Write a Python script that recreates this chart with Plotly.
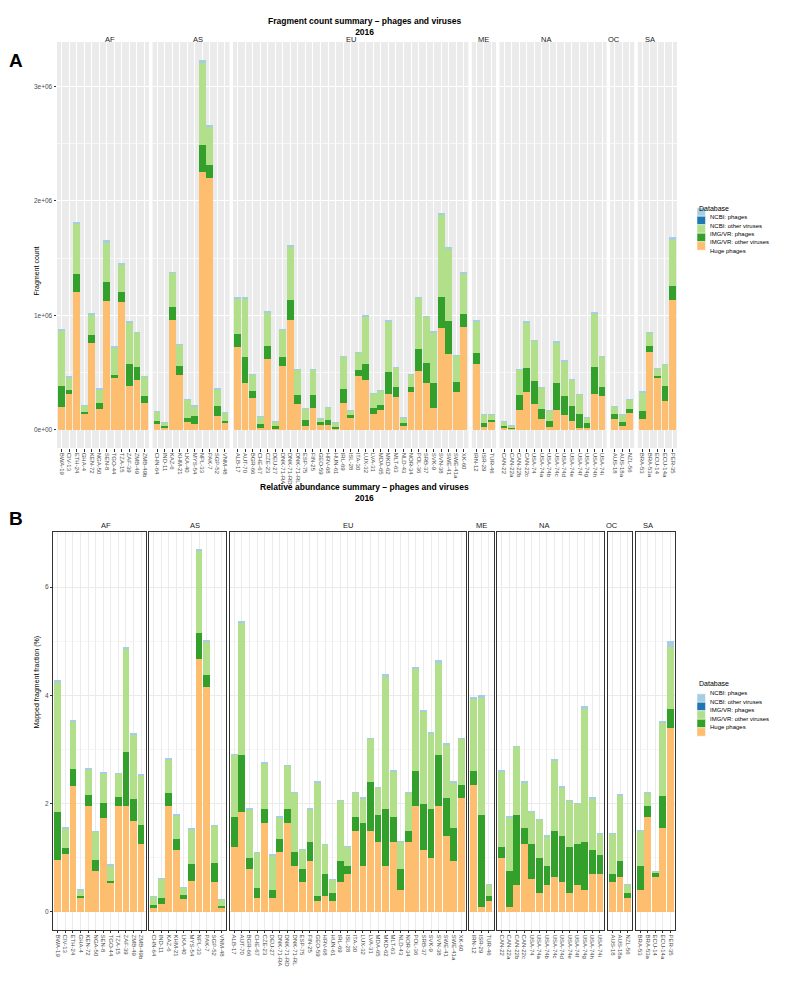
import plotly.graph_objects as go

# ---------------- data ----------------
regions = ["AF", "AS", "EU", "ME", "NA", "OC", "SA"]
region_sizes = [12, 10, 31, 3, 14, 3, 5]
samples = [
    "BWA-19", "CIV-13", "ETH-24", "GHA-4", "KEN-72", "NGA-50", "SEN-8", "TGO-44", "TZA-15", "ZAF-39", "ZMB-49", "ZMB-49b",
    "CHN-64", "IND-11", "KAZ-6", "KHM-21", "LKA-40", "MYS-54", "NPL-33", "PAK-7", "SGP-52", "VNM-48",
    "ALB-17", "AUT-70", "BGR-66", "CHE-67", "CZE-23", "DEU-27", "DNK-71-RA", "DNK-71-RD", "DNK-71-RL", "ESP-75",
    "FIN-25", "GEO-59", "HRV-68", "HUN-61", "IRL-69", "ISL-28", "ITA-30", "LUX-32", "LVA-31", "MDA-65",
    "MKD-62", "MLT-63", "NLD-43", "NOR-34", "POL-36", "SRB-37", "SVK-9", "SVN-38", "SWE-41", "SWE-41a", "XK-60",
    "IRN-12", "ISR-29", "TUR-46",
    "CAN-22", "CAN-22a", "CAN-22b", "CAN-22c", "USA-74", "USA-74a", "USA-74b", "USA-74c", "USA-74d", "USA-74e",
    "USA-74f", "USA-74g", "USA-74h", "USA-74i",
    "AUS-18", "AUS-18a", "NZL-56",
    "BRA-53", "BRA-53a", "ECU-14", "ECU-14a", "PER-35",
]
series = ["Huge phages", "IMG/VR: other viruses", "IMG/VR: phages", "NCBI: other viruses", "NCBI: phages"]
colors = ["#FDBF6F", "#33A02C", "#B2DF8A", "#1F78B4", "#A6CEE3"]

# Panel A (fragment counts, millions) - read as cumulative stack tops
a_huge_top = [
    0.195, 0.315, 1.20, 0.137, 0.755, 0.178, 1.125, 0.455, 1.117, 0.382, 0.437, 0.233,
    0.05, 0.017, 0.956, 0.475, 0.067, 0.05, 2.257, 2.198, 0.122, 0.055,
    0.726, 0.408, 0.277, 0.015, 0.615, 0.012, 0.554, 0.959, 0.222, 0.035,
    0.19, 0.047, 0.041, 0.006, 0.23, 0.105, 0.464, 0.434, 0.137, 0.172,
    0.312, 0.289, 0.035, 0.329, 0.51, 0.408, 0.192, 0.892, 0.659, 0.327, 0.898,
    0.574, 0.02, 0.067,
    0.015, 0.006, 0.172, 0.329, 0.222, 0.093, 0.023, 0.169, 0.128, 0.073,
    0.015, 0.015, 0.312, 0.294,
    0.093, 0.035, 0.149,
    0.093, 0.682, 0.449, 0.25, 1.13,
]
a_imgvr_other_top = [
    0.379, 0.35, 1.364, 0.152, 0.828, 0.23, 1.29, 0.48, 1.207, 0.574, 0.545, 0.294,
    0.076, 0.03, 1.07, 0.557, 0.105, 0.117, 2.49, 2.318, 0.204, 0.079,
    0.837, 0.638, 0.335, 0.047, 0.735, 0.029, 0.638, 1.131, 0.303, 0.087,
    0.303, 0.064, 0.087, 0.023, 0.353, 0.128, 0.522, 0.577, 0.19, 0.219,
    0.501, 0.37, 0.055, 0.373, 0.706, 0.586, 0.405, 1.16, 0.95, 0.42, 1.015,
    0.671, 0.058, 0.082,
    0.035, 0.015, 0.303, 0.542, 0.429, 0.181, 0.073, 0.405, 0.297, 0.21,
    0.134, 0.055, 0.545, 0.376,
    0.137, 0.07, 0.181,
    0.166, 0.729, 0.472, 0.38, 1.26,
]
a_imgvr_phage_top = [
    0.866, 0.458, 1.80, 0.21, 1.006, 0.353, 1.63, 0.72, 1.44, 0.939, 0.845, 0.46,
    0.16, 0.064, 1.37, 0.74, 0.262, 0.204, 3.215, 2.65, 0.353, 0.152,
    1.149, 1.149, 0.481, 0.117, 1.026, 0.073, 0.875, 1.598, 0.525, 0.187,
    0.525, 0.099, 0.192, 0.061, 0.641, 0.169, 0.676, 0.991, 0.318, 0.341,
    0.945, 0.542, 0.102, 0.478, 1.152, 0.985, 0.843, 1.88, 1.58, 0.647, 1.367,
    0.945, 0.128, 0.128,
    0.073, 0.035, 0.525, 0.939, 0.776, 0.37, 0.163, 0.764, 0.598, 0.44,
    0.303, 0.108, 1.015, 0.641,
    0.204, 0.128, 0.259,
    0.327, 0.845, 0.536, 0.57, 1.66,
]
a_ncbi_other = [0.0] * 78
a_ncbi_phage = [
    0.009, 0.003, 0.008, 0.002, 0.006, 0.002, 0.03, 0.003, 0.01, 0.004, 0.006, 0.003,
    0.002, 0.001, 0.008, 0.006, 0.002, 0.002, 0.015, 0.012, 0.002, 0.001,
    0.003, 0.003, 0.002, 0.001, 0.003, 0.001, 0.002, 0.008, 0.002, 0.001,
    0.002, 0.001, 0.001, 0.001, 0.002, 0.001, 0.002, 0.004, 0.001, 0.001,
    0.005, 0.002, 0.001, 0.002, 0.005, 0.004, 0.022, 0.009, 0.012, 0.002, 0.003,
    0.005, 0.001, 0.001,
    0.001, 0.001, 0.002, 0.005, 0.005, 0.002, 0.001, 0.005, 0.002, 0.002,
    0.001, 0.001, 0.008, 0.002,
    0.001, 0.001, 0.001,
    0.002, 0.006, 0.002, 0.002, 0.02,
]

# Panel B (mapped fragment fraction, %) - cumulative stack tops
b_huge_top = [
    0.963, 1.07, 2.33, 0.27, 1.96, 0.75, 1.74, 0.54, 1.96, 1.95, 1.68, 1.26,
    0.08, 0.14, 1.96, 1.14, 0.245, 0.58, 4.67, 4.15, 0.55, 0.08,
    1.2, 1.85, 0.8, 0.25, 1.65, 0.25, 1.1, 1.65, 0.85, 0.55,
    0.95, 0.2, 0.3, 0.2, 0.55, 0.7, 1.5, 0.85, 1.5, 1.3,
    0.85, 1.3, 0.4, 1.3, 1.95, 1.15, 1.0, 1.95, 1.4, 0.95, 2.1,
    2.35, 0.1, 0.2,
    1.0, 0.1, 0.5, 1.25, 0.6, 0.35, 0.5, 0.65, 0.55, 0.35,
    0.5, 0.4, 0.7, 0.7,
    0.55, 0.65, 0.25,
    0.4, 1.75, 0.65, 1.55, 3.4,
]
b_imgvr_other_top = [
    1.84, 1.19, 2.65, 0.29, 2.16, 0.96, 2.01, 0.58, 2.12, 2.96, 2.09, 1.60,
    0.135, 0.26, 2.19, 1.34, 0.32, 0.88, 5.15, 4.37, 0.91, 0.11,
    1.75, 2.9, 1.0, 0.45, 1.9, 0.4, 1.35, 1.9, 1.1, 0.8,
    1.3, 0.3, 0.7, 0.35, 0.95, 0.85, 1.75, 1.65, 2.4, 1.8,
    1.9, 1.75, 0.8, 1.5, 2.6, 2.0, 1.9, 2.9, 2.1, 1.55, 2.35,
    2.6, 1.8, 0.3,
    1.2, 0.75, 1.8, 1.55, 1.25, 1.0, 0.85, 1.5, 1.4, 1.2,
    1.25, 1.3, 1.15, 1.05,
    0.7, 0.95, 0.35,
    0.85, 1.95, 0.72, 2.15, 3.75,
]
b_imgvr_phage_top = [
    4.23, 1.55, 3.52, 0.405, 2.64, 1.49, 2.54, 0.865, 2.55, 4.85, 3.27, 2.52,
    0.29, 0.61, 2.82, 1.78, 0.45, 1.53, 6.67, 5.0, 1.6, 0.23,
    2.9, 5.35, 1.9, 1.1, 2.75, 1.05, 1.75, 2.7, 2.2, 1.15,
    1.9, 2.4, 1.25, 0.6, 2.05, 1.2, 2.2, 2.1, 3.2, 2.3,
    4.35, 2.6, 1.3, 2.2, 4.5, 3.7, 3.3, 4.6, 3.1, 2.4, 3.2,
    3.95, 3.95, 0.5,
    2.6, 1.75, 3.05, 2.4, 1.85, 1.7, 1.4, 2.8, 2.3, 2.05,
    2.0, 3.75, 2.1, 1.45,
    1.45, 2.15, 0.5,
    1.5, 2.2, 0.75, 3.5, 4.9,
]
b_ncbi_other = [0.0] * 78
b_ncbi_phage = [
    0.05, 0.005, 0.02, 0.003, 0.02, 0.005, 0.04, 0.005, 0.01, 0.04, 0.03, 0.03,
    0.002, 0.003, 0.02, 0.02, 0.002, 0.005, 0.03, 0.02, 0.005, 0.002,
    0.01, 0.03, 0.005, 0.005, 0.01, 0.005, 0.005, 0.01, 0.005, 0.005,
    0.005, 0.005, 0.005, 0.003, 0.005, 0.005, 0.005, 0.01, 0.005, 0.005,
    0.05, 0.005, 0.005, 0.005, 0.02, 0.03, 0.03, 0.05, 0.02, 0.005, 0.01,
    0.02, 0.05, 0.005,
    0.005, 0.005, 0.01, 0.01, 0.005, 0.005, 0.005, 0.01, 0.01, 0.005,
    0.005, 0.05, 0.01, 0.005,
    0.005, 0.02, 0.005,
    0.005, 0.01, 0.005, 0.02, 0.1,
]

a_ytick_vals = [0, 1e6, 2e6, 3e6]
a_ytick_text = ["0e+00", "1e+06", "2e+06", "3e+06"]
b_ytick_vals = [0, 2, 4, 6]
b_ytick_text = ["0", "2", "4", "6"]


def segments(huge_top, other_top, phage_top, ncbi_other, ncbi_phage, scale):
    s1 = [h * scale for h in huge_top]
    s2 = [(o - h) * scale for o, h in zip(other_top, huge_top)]
    s3 = [(p - o) * scale for p, o in zip(phage_top, other_top)]
    s4 = [v * scale for v in ncbi_other]
    s5 = [v * scale for v in ncbi_phage]
    return [s1, s2, s3, s4, s5]


panelA = segments(a_huge_top, a_imgvr_other_top, a_imgvr_phage_top, a_ncbi_other, a_ncbi_phage, 1e6)
panelB = segments(b_huge_top, b_imgvr_other_top, b_imgvr_phage_top, b_ncbi_other, b_ncbi_phage, 1.0)

# ---------------- layout geometry ----------------
W, H = 792, 984
FONT = "Liberation Sans, Arial, sans-serif"


def fx(px):
    return px / W


def fy(py):
    return 1 - py / H


panels = [
    dict(data=panelA, left=57, right=677, top=42, bottom=448,
         yrange=[-0.1615e6, 3.39e6], tv=a_ytick_vals, tt=a_ytick_text, minor=0.5e6,
         bg="#EBEBEB", grid="#FFFFFF", minorgrid="#F7F7F7", border=False,
         title="<b>Fragment count summary – phages and viruses</b><br><b>2016</b>", title_x=364, title_y=14,
         letter="A", letter_y=48, ytitle="Fragment count", strip_y=33,
         leg_y=203),
    dict(data=panelB, left=53.3, right=675, top=532, bottom=930,
         yrange=[-0.334, 7.02], tv=b_ytick_vals, tt=b_ytick_text, minor=1,
         bg="#FFFFFF", grid="#EBEBEB", minorgrid="#F5F5F5", border=True,
         title="<b>Relative abundance summary – phages and viruses</b><br><b>2016</b>", title_x=364, title_y=493,
         letter="B", letter_y=518, ytitle="Mapped fragment fraction (%)", strip_y=525,
         leg_y=689),
]

fig = go.Figure()
layout = dict(width=W, height=H, margin=dict(l=0, r=0, t=0, b=0),
              paper_bgcolor="white", plot_bgcolor="white", barmode="stack",
              showlegend=False, font=dict(family=FONT, size=6, color="#4D4D4D"))
annotations = []
shapes = []

gap = 3.5
total_units = sum(n + 0.2 for n in region_sizes)

for p, pan in enumerate(panels):
    unit = (pan["right"] - pan["left"] - gap * (len(regions) - 1)) / total_units
    x0 = pan["left"]
    start = 0
    for r, reg in enumerate(regions):
        n = region_sizes[r]
        w = (n + 0.2) * unit
        k = p * len(regions) + r + 1
        xs = samples[start:start + n]
        for s in range(len(series)):
            ys = pan["data"][s][start:start + n]
            fig.add_trace(go.Bar(x=xs, y=ys, name=series[s], width=0.9,
                                 marker=dict(color=colors[s], line=dict(width=0)),
                                 xaxis=f"x{k}", yaxis=f"y{k}", showlegend=False,
                                 hoverinfo="x+y+name"))
        xa = dict(domain=[fx(x0), fx(x0 + w)], anchor=f"y{k}", type="category",
                  categoryorder="array", categoryarray=xs, range=[-0.6, n - 0.4],
                  tickangle=90, tickfont=dict(size=6, color="#4D4D4D", family=FONT),
                  ticks="outside", ticklen=2.5, tickwidth=0.6, tickcolor="#333333",
                  showgrid=True, gridcolor=pan["grid"], gridwidth=0.8,
                  zeroline=False, fixedrange=True)
        ya = dict(domain=[fy(pan["bottom"]), fy(pan["top"])], anchor=f"x{k}",
                  range=pan["yrange"], tickvals=pan["tv"], ticktext=pan["tt"],
                  showticklabels=(r == 0), ticks="outside" if r == 0 else "",
                  ticklen=2.5, tickwidth=0.6, tickcolor="#333333",
                  tickfont=dict(size=6.5, color="#4D4D4D", family=FONT),
                  showgrid=True, gridcolor=pan["grid"], gridwidth=0.9,
                  minor=dict(dtick=pan["minor"], tick0=0, showgrid=True,
                             gridcolor=pan["minorgrid"], gridwidth=0.5),
                  zeroline=False, fixedrange=True)
        if pan["border"]:
            for a in (xa, ya):
                a.update(showline=True, mirror=True, linecolor="#333333", linewidth=0.8)
        else:
            shapes.append(dict(type="rect", xref="paper", yref="paper",
                               x0=fx(x0), x1=fx(x0 + w), y0=fy(pan["bottom"]), y1=fy(pan["top"]),
                               fillcolor=pan["bg"], line=dict(width=0), layer="below"))
        layout[f"xaxis{'' if k == 1 else k}"] = xa
        layout[f"yaxis{'' if k == 1 else k}"] = ya
        annotations.append(dict(text=reg, x=fx(x0 + w / 2), y=fy(pan["strip_y"]),
                                xref="paper", yref="paper", showarrow=False,
                                font=dict(size=7.5, color="#1A1A1A", family=FONT)))
        x0 += w + gap
        start += n

    # titles
    annotations.append(dict(text=pan["title"], x=fx(pan["title_x"]), y=fy(pan["title_y"]), xref="paper", yref="paper",
                            showarrow=False, font=dict(size=8.5, color="black", family=FONT)))
    annotations.append(dict(text=f"<b>{pan['letter']}</b>", x=fx(7), y=fy(pan["letter_y"]),
                            xref="paper", yref="paper", showarrow=False,
                            font=dict(size=19, color="black", family=FONT)))
    annotations.append(dict(text=pan["ytitle"], x=fx(30), y=fy((pan["top"] + pan["bottom"]) / 2),
                            xref="paper", yref="paper", showarrow=False, textangle=-90,
                            font=dict(size=7, color="black", family=FONT)))
    # legend (drawn manually to match compact ggplot keys)
    annotations.append(dict(text="Database", x=fx(697), y=fy(pan["leg_y"]), xref="paper", yref="paper",
                            showarrow=False, xanchor="left",
                            font=dict(size=7, color="black", family=FONT)))
    for i, s in enumerate(reversed(range(len(series)))):
        cy = pan["leg_y"] + 9 + i * 8.5
        shapes.append(dict(type="rect", xref="paper", yref="paper",
                           x0=fx(697), x1=fx(705.5), y0=fy(cy + 4.25), y1=fy(cy - 4.25),
                           fillcolor=colors[s], line=dict(width=0.5, color="white")))
        annotations.append(dict(text=series[s], x=fx(708), y=fy(cy), xref="paper", yref="paper",
                                showarrow=False, xanchor="left",
                                font=dict(size=6, color="black", family=FONT)))

layout["annotations"] = annotations
layout["shapes"] = shapes
fig.update_layout(**layout)
fig.write_html("out.html", config={"displayModeBar": False},
               post_script="document.body.style.margin='0';document.body.style.overflow='hidden';")
